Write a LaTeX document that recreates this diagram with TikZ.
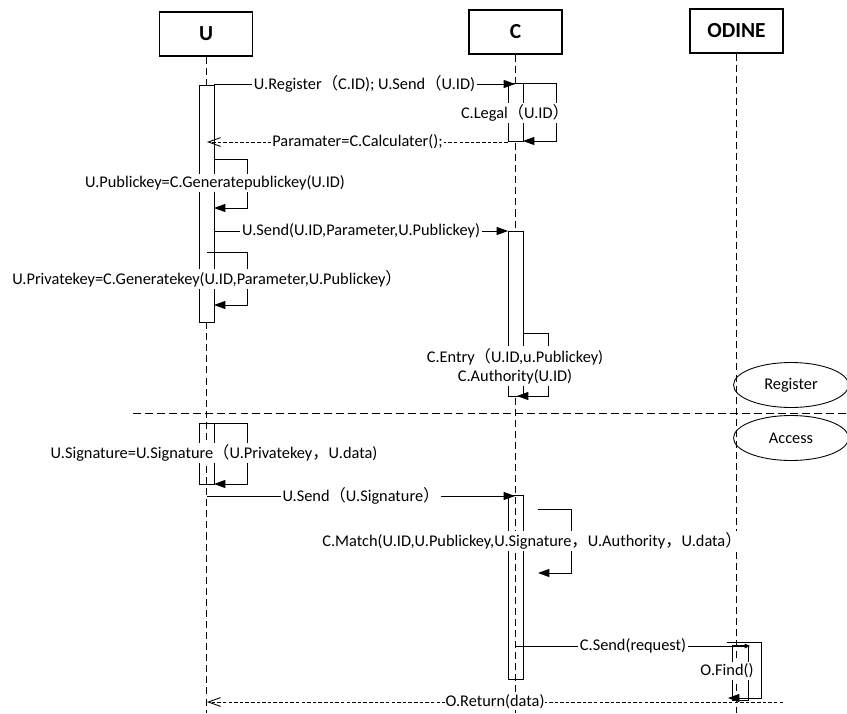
\documentclass[tikz,border=0pt]{standalone}
\usepackage{fontspec}
\setmainfont{Carlito}
\newfontfamily\cjk{Noto Sans CJK SC}
\usepackage{tikz}
\usetikzlibrary{arrows.meta,calc,positioning,shapes.geometric}

% full-width brackets and comma
\newcommand{\fwl}{{\cjk （}}
\newcommand{\fwr}{{\cjk ）}}
\newcommand{\fwc}{{\cjk ，}}

\tikzset{
 head/.style={draw, line width=0.6pt, minimum width=1.86cm, minimum height=0.88cm, font=\fontsize{12.2}{14}\selectfont\bfseries},
 life/.style={line width=0.5pt, dash pattern=on 4pt off 2.3pt},
 actbar/.style={draw, line width=0.5pt},
 call/.style={line width=0.5pt, -{Triangle[length=6.5pt,width=4.6pt]}},
 reply/.style={line width=0.5pt, dash pattern=on 2pt off 1.2pt, -{Straight Barb[length=7pt,width=5pt]}},
 lbl/.style={fill=white, inner sep=1pt, font=\fontsize{9.3}{11}\selectfont},
 phase/.style={draw, ellipse, line width=0.5pt, minimum width=2.3cm, minimum height=0.9cm, inner sep=0pt, font=\fontsize{9.3}{11}\selectfont}
}

\begin{document}
\begin{tikzpicture}[x=0.02cm, y=-0.02cm]
\useasboundingbox (0,0) rectangle (847,713);

% Heads and lifelines
\foreach \name/\x/\y/\txt in {U/206/34/U, C/515.5/32/C, O/736.5/31/ODINE} {
 \node[head] (\name) at (\x,\y) {\txt};
 \draw[life] (\name.south) -- (\name.south |- 0,713);
}

% Activation bars
\fill[white, draw=black, line width=0.5pt] (199,85) rectangle (214,322);
\fill[white, draw=black, line width=0.5pt] (508,83) rectangle (523,141);
\fill[white, draw=black, line width=0.5pt] (508,231) rectangle (523,396);
\draw[actbar] (199,423) rectangle (214,484);
\draw[actbar] (508,495) rectangle (523,679);
\draw[actbar] (732,645) rectangle (748,700);

% Register phase
\coordinate (r1a) at (214,84);  \coordinate (r1b) at (515,84);
\coordinate (s1a) at (523,83);  \coordinate (s1b) at (523,141);
\coordinate (r2a) at (508,142); \coordinate (r2b) at (207,142);
\coordinate (s2a) at (214,159); \coordinate (s2b) at (214,208);
\coordinate (r3a) at (214,231); \coordinate (r3b) at (508,231);
\coordinate (s3a) at (207,252); \coordinate (s3b) at (214,305);
\coordinate (s4a) at (523,333); \coordinate (s4b) at (517,396);

\draw[call] (s1a) -- ++(33,0) |- (s1b);
\draw[call] (s2a) -- ++(33,0) |- (s2b);
\draw[call] (s3a) -- ++(40,0) |- (s3b);
\draw[call] (s4a) -- ++(25,0) |- (s4b);

\draw[call] (r1a) -- node[lbl] {U.Register\fwl C.ID); U.Send\fwl U.ID)} (r1b);
\draw[reply] (r2a) -- node[lbl] {Paramater=C.Calculater();} (r2b);
\draw[call] (r3a) -- node[lbl] {U.Send(U.ID,Parameter,U.Publickey)} (r3b);

\node[lbl] (legal) at (515,113) {C.Legal\fwl U.ID\fwr};
\node[lbl] (pubkey) at (215,183) {U.Publickey=C.Generatepublickey(U.ID)};
\node[lbl] (privkey) at (207,279) {U.Privatekey=C.Generatekey(U.ID,Parameter,U.Publickey\fwr};
\node[lbl, align=center] (entry) at (515,366) {C.Entry\fwl U.ID,u.Publickey)\\C.Authority(U.ID)};

% Separator and phase tags
\coordinate (sepa) at (133,413); \coordinate (sepb) at (847,413);
\draw[line width=0.5pt, dash pattern=on 4.5pt off 2.3pt] (sepa) -- (sepb);
\node[phase] (reg) at (791,385) {Register};
\node[phase] (acc) at (791,438) {Access};

% Access phase
\coordinate (s5a) at (214,423); \coordinate (s5b) at (214,484);
\coordinate (r4a) at (207,496); \coordinate (r4b) at (515,496);
\coordinate (s6a) at (538,509); \coordinate (s6b) at (538,573);
\coordinate (r5a) at (516,646); \coordinate (r5b) at (750,646);
\coordinate (s7a) at (727,642); \coordinate (s7b) at (728,698);
\coordinate (r6a) at (783,702); \coordinate (r6b) at (207,702);

\draw[call] (s5a) -- ++(33,0) |- (s5b);
\draw[call] (s6a) -- ++(33,0) |- (s6b);
\draw[call] (s7a) -- ++(34,0) |- (s7b);

\draw[call] (r4a) -- node[lbl] {U.Send\fwl U.Signature\fwr} (r4b);
\draw[line width=0.5pt, -{Triangle[length=3pt,width=2.5pt]}] (r5a) -- node[lbl] {C.Send(request)} (r5b);
\draw[reply] (r6a) -- node[lbl, inner sep=0.5pt] {O.Return(data)} (r6b);

\node[lbl] (sign) at (214,453) {U.Signature=U.Signature\fwl U.Privatekey\fwc U.data)};
\node[lbl] (match) at (532,541) {C.Match(U.ID,U.Publickey,U.Signature\fwc U.Authority\fwc U.data\fwr};
\node[lbl] (find) at (727,671) {O.Find()};
\end{tikzpicture}
\end{document}
